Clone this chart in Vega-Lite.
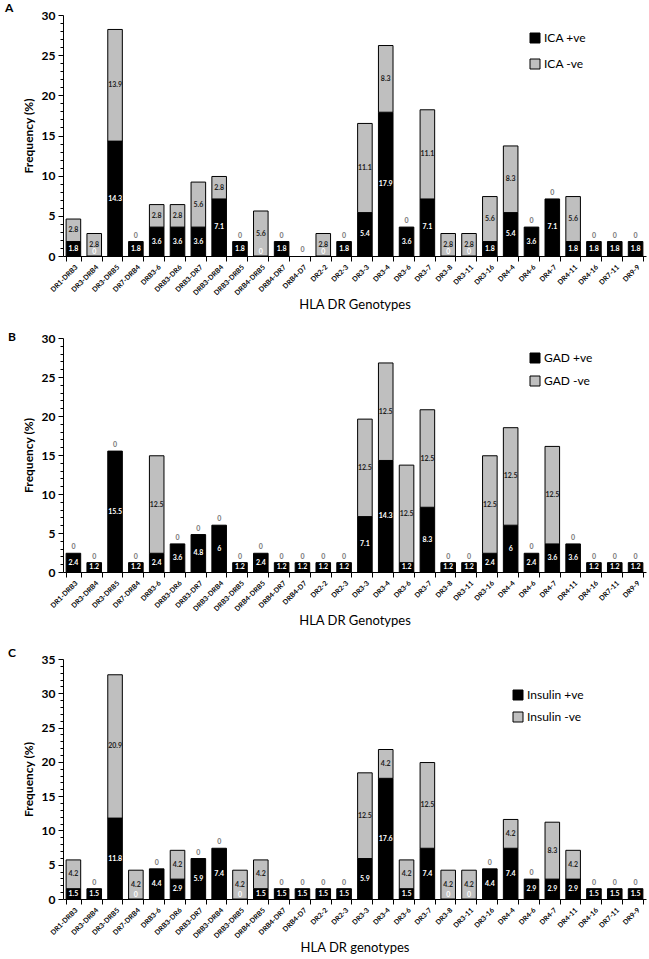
{
  "$schema": "https://vega.github.io/schema/vega-lite/v6.json",
  "padding": {"left": 5, "top": 2, "right": 2, "bottom": 2},
  "spacing": 19,
  "config": {
    "view": {"stroke": null},
    "font": "Lato",
    "axis": {"grid": false, "domainColor": "black", "tickColor": "black", "labelColor": "black", "titleColor": "black"}
  },
  "resolve": {"scale": {"y": "independent", "color": "independent", "x": "independent"}, "legend": {"color": "independent"}},
  "datasets": {
    "ica": [
      {"g":"DR1-DRB3","s":"ICA +ve","v":1.8,"o":1},{"g":"DR1-DRB3","s":"ICA -ve","v":2.8,"o":2},
      {"g":"DR3-DRB4","s":"ICA +ve","v":0,"o":1},{"g":"DR3-DRB4","s":"ICA -ve","v":2.8,"o":2},
      {"g":"DR3-DRB5","s":"ICA +ve","v":14.3,"o":1},{"g":"DR3-DRB5","s":"ICA -ve","v":13.9,"o":2},
      {"g":"DR7-DRB4","s":"ICA +ve","v":1.8,"o":1},{"g":"DR7-DRB4","s":"ICA -ve","v":0,"o":2},
      {"g":"DRB3-6","s":"ICA +ve","v":3.6,"o":1},{"g":"DRB3-6","s":"ICA -ve","v":2.8,"o":2},
      {"g":"DRB3-DR6","s":"ICA +ve","v":3.6,"o":1},{"g":"DRB3-DR6","s":"ICA -ve","v":2.8,"o":2},
      {"g":"DRB3-DR7","s":"ICA +ve","v":3.6,"o":1},{"g":"DRB3-DR7","s":"ICA -ve","v":5.6,"o":2},
      {"g":"DRB3-DRB4","s":"ICA +ve","v":7.1,"o":1},{"g":"DRB3-DRB4","s":"ICA -ve","v":2.8,"o":2},
      {"g":"DRB3-DRB5","s":"ICA +ve","v":1.8,"o":1},{"g":"DRB3-DRB5","s":"ICA -ve","v":0,"o":2},
      {"g":"DRB4-DRB5","s":"ICA +ve","v":0,"o":1},{"g":"DRB4-DRB5","s":"ICA -ve","v":5.6,"o":2},
      {"g":"DRB4-DR7","s":"ICA +ve","v":1.8,"o":1},{"g":"DRB4-DR7","s":"ICA -ve","v":0,"o":2},
      {"g":"DRB4-D7","s":"ICA +ve","v":0,"o":1},{"g":"DRB4-D7","s":"ICA -ve","v":0,"o":2},
      {"g":"DR2-2","s":"ICA +ve","v":0,"o":1},{"g":"DR2-2","s":"ICA -ve","v":2.8,"o":2},
      {"g":"DR2-3","s":"ICA +ve","v":1.8,"o":1},{"g":"DR2-3","s":"ICA -ve","v":0,"o":2},
      {"g":"DR3-3","s":"ICA +ve","v":5.4,"o":1},{"g":"DR3-3","s":"ICA -ve","v":11.1,"o":2},
      {"g":"DR3-4","s":"ICA +ve","v":17.9,"o":1},{"g":"DR3-4","s":"ICA -ve","v":8.3,"o":2},
      {"g":"DR3-6","s":"ICA +ve","v":3.6,"o":1},{"g":"DR3-6","s":"ICA -ve","v":0,"o":2},
      {"g":"DR3-7","s":"ICA +ve","v":7.1,"o":1},{"g":"DR3-7","s":"ICA -ve","v":11.1,"o":2},
      {"g":"DR3-8","s":"ICA +ve","v":0,"o":1},{"g":"DR3-8","s":"ICA -ve","v":2.8,"o":2},
      {"g":"DR3-11","s":"ICA +ve","v":0,"o":1},{"g":"DR3-11","s":"ICA -ve","v":2.8,"o":2},
      {"g":"DR3-16","s":"ICA +ve","v":1.8,"o":1},{"g":"DR3-16","s":"ICA -ve","v":5.6,"o":2},
      {"g":"DR4-4","s":"ICA +ve","v":5.4,"o":1},{"g":"DR4-4","s":"ICA -ve","v":8.3,"o":2},
      {"g":"DR4-6","s":"ICA +ve","v":3.6,"o":1},{"g":"DR4-6","s":"ICA -ve","v":0,"o":2},
      {"g":"DR4-7","s":"ICA +ve","v":7.1,"o":1},{"g":"DR4-7","s":"ICA -ve","v":0,"o":2},
      {"g":"DR4-11","s":"ICA +ve","v":1.8,"o":1},{"g":"DR4-11","s":"ICA -ve","v":5.6,"o":2},
      {"g":"DR4-16","s":"ICA +ve","v":1.8,"o":1},{"g":"DR4-16","s":"ICA -ve","v":0,"o":2},
      {"g":"DR7-11","s":"ICA +ve","v":1.8,"o":1},{"g":"DR7-11","s":"ICA -ve","v":0,"o":2},
      {"g":"DR9-9","s":"ICA +ve","v":1.8,"o":1},{"g":"DR9-9","s":"ICA -ve","v":0,"o":2}
    ],
    "gad": [
      {"g":"DR1-DRB3","s":"GAD +ve","v":2.4,"o":1},{"g":"DR1-DRB3","s":"GAD -ve","v":0,"o":2},
      {"g":"DR3-DRB4","s":"GAD +ve","v":1.2,"o":1},{"g":"DR3-DRB4","s":"GAD -ve","v":0,"o":2},
      {"g":"DR3-DRB5","s":"GAD +ve","v":15.5,"o":1},{"g":"DR3-DRB5","s":"GAD -ve","v":0,"o":2},
      {"g":"DR7-DRB4","s":"GAD +ve","v":1.2,"o":1},{"g":"DR7-DRB4","s":"GAD -ve","v":0,"o":2},
      {"g":"DRB3-6","s":"GAD +ve","v":2.4,"o":1},{"g":"DRB3-6","s":"GAD -ve","v":12.5,"o":2},
      {"g":"DRB3-DR6","s":"GAD +ve","v":3.6,"o":1},{"g":"DRB3-DR6","s":"GAD -ve","v":0,"o":2},
      {"g":"DRB3-DR7","s":"GAD +ve","v":4.8,"o":1},{"g":"DRB3-DR7","s":"GAD -ve","v":0,"o":2},
      {"g":"DRB3-DRB4","s":"GAD +ve","v":6,"o":1},{"g":"DRB3-DRB4","s":"GAD -ve","v":0,"o":2},
      {"g":"DRB3-DRB5","s":"GAD +ve","v":1.2,"o":1},{"g":"DRB3-DRB5","s":"GAD -ve","v":0,"o":2},
      {"g":"DRB4-DRB5","s":"GAD +ve","v":2.4,"o":1},{"g":"DRB4-DRB5","s":"GAD -ve","v":0,"o":2},
      {"g":"DRB4-DR7","s":"GAD +ve","v":1.2,"o":1},{"g":"DRB4-DR7","s":"GAD -ve","v":0,"o":2},
      {"g":"DRB4-D7","s":"GAD +ve","v":1.2,"o":1},{"g":"DRB4-D7","s":"GAD -ve","v":0,"o":2},
      {"g":"DR2-2","s":"GAD +ve","v":1.2,"o":1},{"g":"DR2-2","s":"GAD -ve","v":0,"o":2},
      {"g":"DR2-3","s":"GAD +ve","v":1.2,"o":1},{"g":"DR2-3","s":"GAD -ve","v":0,"o":2},
      {"g":"DR3-3","s":"GAD +ve","v":7.1,"o":1},{"g":"DR3-3","s":"GAD -ve","v":12.5,"o":2},
      {"g":"DR3-4","s":"GAD +ve","v":14.3,"o":1},{"g":"DR3-4","s":"GAD -ve","v":12.5,"o":2},
      {"g":"DR3-6","s":"GAD +ve","v":1.2,"o":1},{"g":"DR3-6","s":"GAD -ve","v":12.5,"o":2},
      {"g":"DR3-7","s":"GAD +ve","v":8.3,"o":1},{"g":"DR3-7","s":"GAD -ve","v":12.5,"o":2},
      {"g":"DR3-8","s":"GAD +ve","v":1.2,"o":1},{"g":"DR3-8","s":"GAD -ve","v":0,"o":2},
      {"g":"DR3-11","s":"GAD +ve","v":1.2,"o":1},{"g":"DR3-11","s":"GAD -ve","v":0,"o":2},
      {"g":"DR3-16","s":"GAD +ve","v":2.4,"o":1},{"g":"DR3-16","s":"GAD -ve","v":12.5,"o":2},
      {"g":"DR4-4","s":"GAD +ve","v":6,"o":1},{"g":"DR4-4","s":"GAD -ve","v":12.5,"o":2},
      {"g":"DR4-6","s":"GAD +ve","v":2.4,"o":1},{"g":"DR4-6","s":"GAD -ve","v":0,"o":2},
      {"g":"DR4-7","s":"GAD +ve","v":3.6,"o":1},{"g":"DR4-7","s":"GAD -ve","v":12.5,"o":2},
      {"g":"DR4-11","s":"GAD +ve","v":3.6,"o":1},{"g":"DR4-11","s":"GAD -ve","v":0,"o":2},
      {"g":"DR4-16","s":"GAD +ve","v":1.2,"o":1},{"g":"DR4-16","s":"GAD -ve","v":0,"o":2},
      {"g":"DR7-11","s":"GAD +ve","v":1.2,"o":1},{"g":"DR7-11","s":"GAD -ve","v":0,"o":2},
      {"g":"DR9-9","s":"GAD +ve","v":1.2,"o":1},{"g":"DR9-9","s":"GAD -ve","v":0,"o":2}
    ],
    "ins": [
      {"g":"DR1-DRB3","s":"Insulin +ve","v":1.5,"o":1},{"g":"DR1-DRB3","s":"Insulin  -ve","v":4.2,"o":2},
      {"g":"DR3-DRB4","s":"Insulin +ve","v":1.5,"o":1},{"g":"DR3-DRB4","s":"Insulin  -ve","v":0,"o":2},
      {"g":"DR3-DRB5","s":"Insulin +ve","v":11.8,"o":1},{"g":"DR3-DRB5","s":"Insulin  -ve","v":20.9,"o":2},
      {"g":"DR7-DRB4","s":"Insulin +ve","v":0,"o":1},{"g":"DR7-DRB4","s":"Insulin  -ve","v":4.2,"o":2},
      {"g":"DRB3-6","s":"Insulin +ve","v":4.4,"o":1},{"g":"DRB3-6","s":"Insulin  -ve","v":0,"o":2},
      {"g":"DRB3-DR6","s":"Insulin +ve","v":2.9,"o":1},{"g":"DRB3-DR6","s":"Insulin  -ve","v":4.2,"o":2},
      {"g":"DRB3-DR7","s":"Insulin +ve","v":5.9,"o":1},{"g":"DRB3-DR7","s":"Insulin  -ve","v":0,"o":2},
      {"g":"DRB3-DRB4","s":"Insulin +ve","v":7.4,"o":1},{"g":"DRB3-DRB4","s":"Insulin  -ve","v":0,"o":2},
      {"g":"DRB3-DRB5","s":"Insulin +ve","v":0,"o":1},{"g":"DRB3-DRB5","s":"Insulin  -ve","v":4.2,"o":2},
      {"g":"DRB4-DRB5","s":"Insulin +ve","v":1.5,"o":1},{"g":"DRB4-DRB5","s":"Insulin  -ve","v":4.2,"o":2},
      {"g":"DRB4-DR7","s":"Insulin +ve","v":1.5,"o":1},{"g":"DRB4-DR7","s":"Insulin  -ve","v":0,"o":2},
      {"g":"DRB4-D7","s":"Insulin +ve","v":1.5,"o":1},{"g":"DRB4-D7","s":"Insulin  -ve","v":0,"o":2},
      {"g":"DR2-2","s":"Insulin +ve","v":1.5,"o":1},{"g":"DR2-2","s":"Insulin  -ve","v":0,"o":2},
      {"g":"DR2-3","s":"Insulin +ve","v":1.5,"o":1},{"g":"DR2-3","s":"Insulin  -ve","v":0,"o":2},
      {"g":"DR3-3","s":"Insulin +ve","v":5.9,"o":1},{"g":"DR3-3","s":"Insulin  -ve","v":12.5,"o":2},
      {"g":"DR3-4","s":"Insulin +ve","v":17.6,"o":1},{"g":"DR3-4","s":"Insulin  -ve","v":4.2,"o":2},
      {"g":"DR3-6","s":"Insulin +ve","v":1.5,"o":1},{"g":"DR3-6","s":"Insulin  -ve","v":4.2,"o":2},
      {"g":"DR3-7","s":"Insulin +ve","v":7.4,"o":1},{"g":"DR3-7","s":"Insulin  -ve","v":12.5,"o":2},
      {"g":"DR3-8","s":"Insulin +ve","v":0,"o":1},{"g":"DR3-8","s":"Insulin  -ve","v":4.2,"o":2},
      {"g":"DR3-11","s":"Insulin +ve","v":0,"o":1},{"g":"DR3-11","s":"Insulin  -ve","v":4.2,"o":2},
      {"g":"DR3-16","s":"Insulin +ve","v":4.4,"o":1},{"g":"DR3-16","s":"Insulin  -ve","v":0,"o":2},
      {"g":"DR4-4","s":"Insulin +ve","v":7.4,"o":1},{"g":"DR4-4","s":"Insulin  -ve","v":4.2,"o":2},
      {"g":"DR4-6","s":"Insulin +ve","v":2.9,"o":1},{"g":"DR4-6","s":"Insulin  -ve","v":0,"o":2},
      {"g":"DR4-7","s":"Insulin +ve","v":2.9,"o":1},{"g":"DR4-7","s":"Insulin  -ve","v":8.3,"o":2},
      {"g":"DR4-11","s":"Insulin +ve","v":2.9,"o":1},{"g":"DR4-11","s":"Insulin  -ve","v":4.2,"o":2},
      {"g":"DR4-16","s":"Insulin +ve","v":1.5,"o":1},{"g":"DR4-16","s":"Insulin  -ve","v":0,"o":2},
      {"g":"DR7-11","s":"Insulin +ve","v":1.5,"o":1},{"g":"DR7-11","s":"Insulin  -ve","v":0,"o":2},
      {"g":"DR9-9","s":"Insulin +ve","v":1.5,"o":1},{"g":"DR9-9","s":"Insulin  -ve","v":0,"o":2}
    ]
  },
  "vconcat": [
    {
      "title": {"text": "A", "anchor": "start", "frame": "bounds", "fontSize": 12, "fontWeight": "bold", "offset": 0, "dx": -17, "dy": 6},
      "width": 583, "height": 241,
      "data": {"name": "ica"},
      "transform": [
        {"stack": "v", "groupby": ["g"], "sort": [{"field": "o"}], "as": ["v0", "v1"]},
        {"calculate": "(datum.v0 + datum.v1) / 2", "as": "mid"},
        {"joinaggregate": [{"op": "sum", "field": "v", "as": "tot"}], "groupby": ["g"]}
      ],
      "encoding": {
        "x": {"field": "g", "type": "nominal", "sort": null, "scale": {"domain": ["DR1-DRB3","DR3-DRB4","DR3-DRB5","DR7-DRB4","DRB3-6","DRB3-DR6","DRB3-DR7","DRB3-DRB4","DRB3-DRB5","DRB4-DRB5","DRB4-DR7","DRB4-D7","DR2-2","DR2-3","DR3-3","DR3-4","DR3-6","DR3-7","DR3-8","DR3-11","DR3-16","DR4-4","DR4-6","DR4-7","DR4-11","DR4-16","DR7-11","DR9-9"], "paddingInner": 0.3, "paddingOuter": 0.15},
          "axis": {"title": "HLA DR Genotypes", "titleFontSize": 13, "titleFontWeight": "normal", "titlePadding": 3, "labelAngle": -45, "labelFontSize": 7, "labelFontWeight": "bold", "labelPadding": 2, "labelOverlap": false, "tickBand": "extent", "tickSize": 5}}
      },
      "layer": [
        {
          "transform": [{"filter": "datum.v > 0"}],
          "mark": {"type": "bar", "stroke": "black", "strokeWidth": 1},
          "encoding": {
            "y": {"field": "v0", "type": "quantitative", "scale": {"domain": [0, 30], "nice": false},
              "axis": {"title": "Frequency (%)", "titleFontSize": 12, "titleFontWeight": "bold", "titlePadding": 6, "labelFontSize": 12, "labelFontWeight": "bold", "tickCount": 30, "labelExpr": "datum.value % 5 == 0 ? datum.label : ''", "tickSize": {"condition": {"test": "datum.value % 5 == 0", "value": 5}, "value": 3}, "labelPadding": 3}},
            "y2": {"field": "v1"},
            "color": {"field": "s", "type": "nominal", "scale": {"domain": ["ICA +ve", "ICA -ve"], "range": ["#000000", "#bfbfbf"]},
              "legend": {"title": null, "orient": "none", "legendX": 466, "legendY": 17, "symbolType": "square", "symbolSize": 100, "symbolStrokeColor": "black", "symbolStrokeWidth": 1, "labelFontSize": 12, "labelColor": "black", "rowPadding": 12, "labelOffset": 3}}
          }
        },
        {
          "transform": [{"filter": "datum.v > 0 && datum.o === 1"}],
          "mark": {"type": "text", "fontSize": 7, "fontWeight": "bold", "color": "white"},
          "encoding": {"y": {"field": "mid", "type": "quantitative"}, "text": {"field": "v", "type": "quantitative"}}
        },
        {
          "transform": [{"filter": "datum.v > 0 && datum.o === 2"}],
          "mark": {"type": "text", "fontSize": 7, "fontWeight": "bold", "color": "#222222"},
          "encoding": {"y": {"field": "mid", "type": "quantitative"}, "text": {"field": "v", "type": "quantitative"}}
        },
        {
          "transform": [{"filter": "datum.v === 0 && datum.o === 2"}],
          "mark": {"type": "text", "fontSize": 7, "fontWeight": "bold", "color": "#777777", "dy": -6},
          "encoding": {"y": {"field": "mid", "type": "quantitative"}, "text": {"field": "v", "type": "quantitative"}}
        },
        {
          "transform": [{"filter": "datum.v === 0 && datum.o === 1 && datum.tot > 0"}],
          "mark": {"type": "text", "fontSize": 7, "fontWeight": "bold", "color": "white", "dy": -4},
          "encoding": {"y": {"field": "mid", "type": "quantitative"}, "text": {"field": "v", "type": "quantitative"}}
        }
      ]
    },
    {
      "title": {"text": "B", "anchor": "start", "frame": "bounds", "fontSize": 12, "fontWeight": "bold", "offset": 0, "dx": -14, "dy": 12},
      "width": 583, "height": 234,
      "data": {"name": "gad"},
      "transform": [
        {"stack": "v", "groupby": ["g"], "sort": [{"field": "o"}], "as": ["v0", "v1"]},
        {"calculate": "(datum.v0 + datum.v1) / 2", "as": "mid"}
      ],
      "encoding": {
        "x": {"field": "g", "type": "nominal", "sort": null, "scale": {"domain": ["DR1-DRB3","DR3-DRB4","DR3-DRB5","DR7-DRB4","DRB3-6","DRB3-DR6","DRB3-DR7","DRB3-DRB4","DRB3-DRB5","DRB4-DRB5","DRB4-DR7","DRB4-D7","DR2-2","DR2-3","DR3-3","DR3-4","DR3-6","DR3-7","DR3-8","DR3-11","DR3-16","DR4-4","DR4-6","DR4-7","DR4-11","DR4-16","DR7-11","DR9-9"], "paddingInner": 0.3, "paddingOuter": 0.15},
          "axis": {"title": "HLA DR Genotypes", "titleFontSize": 13, "titleFontWeight": "normal", "titlePadding": 3, "labelAngle": -45, "labelFontSize": 7, "labelFontWeight": "bold", "labelPadding": 2, "labelOverlap": false, "tickBand": "extent", "tickSize": 5}}
      },
      "layer": [
        {
          "transform": [{"filter": "datum.v > 0"}],
          "mark": {"type": "bar", "stroke": "black", "strokeWidth": 1},
          "encoding": {
            "y": {"field": "v0", "type": "quantitative", "scale": {"domain": [0, 30], "nice": false},
              "axis": {"title": "Frequency (%)", "titleFontSize": 12, "titleFontWeight": "bold", "titlePadding": 6, "labelFontSize": 12, "labelFontWeight": "bold", "tickCount": 30, "labelExpr": "datum.value % 5 == 0 ? datum.label : ''", "tickSize": {"condition": {"test": "datum.value % 5 == 0", "value": 5}, "value": 3}, "labelPadding": 3}},
            "y2": {"field": "v1"},
            "color": {"field": "s", "type": "nominal", "scale": {"domain": ["GAD +ve", "GAD -ve"], "range": ["#000000", "#bfbfbf"]},
              "legend": {"title": null, "orient": "none", "legendX": 466, "legendY": 14, "symbolType": "square", "symbolSize": 100, "symbolStrokeColor": "black", "symbolStrokeWidth": 1, "labelFontSize": 12, "labelColor": "black", "rowPadding": 9, "labelOffset": 3}}
          }
        },
        {
          "transform": [{"filter": "datum.v > 0 && datum.o === 1"}],
          "mark": {"type": "text", "fontSize": 7, "fontWeight": "bold", "color": "white"},
          "encoding": {"y": {"field": "mid", "type": "quantitative"}, "text": {"field": "v", "type": "quantitative"}}
        },
        {
          "transform": [{"filter": "datum.v > 0 && datum.o === 2"}],
          "mark": {"type": "text", "fontSize": 7, "fontWeight": "bold", "color": "#222222"},
          "encoding": {"y": {"field": "mid", "type": "quantitative"}, "text": {"field": "v", "type": "quantitative"}}
        },
        {
          "transform": [{"filter": "datum.v === 0 && datum.o === 2"}],
          "mark": {"type": "text", "fontSize": 7, "fontWeight": "bold", "color": "#777777", "dy": -6},
          "encoding": {"y": {"field": "mid", "type": "quantitative"}, "text": {"field": "v", "type": "quantitative"}}
        }
      ]
    },
    {
      "title": {"text": "C", "anchor": "start", "frame": "bounds", "fontSize": 12, "fontWeight": "bold", "offset": 0, "dx": -14, "dy": 7},
      "width": 583, "height": 240,
      "data": {"name": "ins"},
      "transform": [
        {"stack": "v", "groupby": ["g"], "sort": [{"field": "o"}], "as": ["v0", "v1"]},
        {"calculate": "(datum.v0 + datum.v1) / 2", "as": "mid"}
      ],
      "encoding": {
        "x": {"field": "g", "type": "nominal", "sort": null, "scale": {"domain": ["DR1-DRB3","DR3-DRB4","DR3-DRB5","DR7-DRB4","DRB3-6","DRB3-DR6","DRB3-DR7","DRB3-DRB4","DRB3-DRB5","DRB4-DRB5","DRB4-DR7","DRB4-D7","DR2-2","DR2-3","DR3-3","DR3-4","DR3-6","DR3-7","DR3-8","DR3-11","DR3-16","DR4-4","DR4-6","DR4-7","DR4-11","DR4-16","DR7-11","DR9-9"], "paddingInner": 0.3, "paddingOuter": 0.15},
          "axis": {"title": "HLA DR genotypes", "titleFontSize": 13, "titleFontWeight": "normal", "titlePadding": 3, "labelAngle": -45, "labelFontSize": 7, "labelFontWeight": "bold", "labelPadding": 2, "labelOverlap": false, "tickBand": "extent", "tickSize": 5}}
      },
      "layer": [
        {
          "transform": [{"filter": "datum.v > 0"}],
          "mark": {"type": "bar", "stroke": "black", "strokeWidth": 1},
          "encoding": {
            "y": {"field": "v0", "type": "quantitative", "scale": {"domain": [0, 35], "nice": false},
              "axis": {"title": "Frequency (%)", "titleFontSize": 12, "titleFontWeight": "bold", "titlePadding": 6, "labelFontSize": 12, "labelFontWeight": "bold", "tickCount": 35, "labelExpr": "datum.value % 5 == 0 ? datum.label : ''", "tickSize": {"condition": {"test": "datum.value % 5 == 0", "value": 5}, "value": 3}, "labelPadding": 3}},
            "y2": {"field": "v1"},
            "color": {"field": "s", "type": "nominal", "scale": {"domain": ["Insulin +ve", "Insulin  -ve"], "range": ["#000000", "#bfbfbf"]},
              "legend": {"title": null, "orient": "none", "legendX": 449, "legendY": 30, "symbolType": "square", "symbolSize": 100, "symbolStrokeColor": "black", "symbolStrokeWidth": 1, "labelFontSize": 12, "labelColor": "black", "rowPadding": 8, "labelOffset": 3}}
          }
        },
        {
          "transform": [{"filter": "datum.v > 0 && datum.o === 1"}],
          "mark": {"type": "text", "fontSize": 7, "fontWeight": "bold", "color": "white"},
          "encoding": {"y": {"field": "mid", "type": "quantitative"}, "text": {"field": "v", "type": "quantitative"}}
        },
        {
          "transform": [{"filter": "datum.v > 0 && datum.o === 2"}],
          "mark": {"type": "text", "fontSize": 7, "fontWeight": "bold", "color": "#222222"},
          "encoding": {"y": {"field": "mid", "type": "quantitative"}, "text": {"field": "v", "type": "quantitative"}}
        },
        {
          "transform": [{"filter": "datum.v === 0 && datum.o === 2"}],
          "mark": {"type": "text", "fontSize": 7, "fontWeight": "bold", "color": "#777777", "dy": -6},
          "encoding": {"y": {"field": "mid", "type": "quantitative"}, "text": {"field": "v", "type": "quantitative"}}
        },
        {
          "transform": [{"filter": "datum.v === 0 && datum.o === 1"}],
          "mark": {"type": "text", "fontSize": 7, "fontWeight": "bold", "color": "white", "dy": -4},
          "encoding": {"y": {"field": "mid", "type": "quantitative"}, "text": {"field": "v", "type": "quantitative"}}
        }
      ]
    }
  ]
}
